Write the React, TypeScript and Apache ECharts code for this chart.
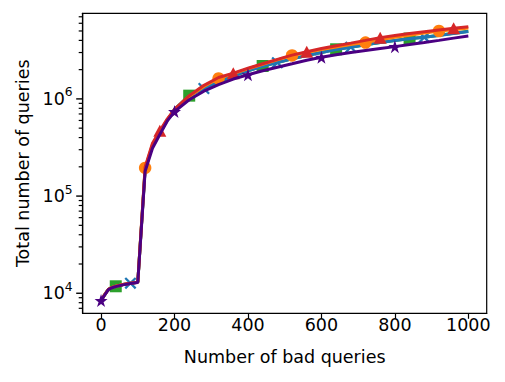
import React, { useEffect, useRef } from 'react';
import * as echarts from 'echarts';

// x positions of the sampled points (number of bad queries)
const xs = [0, 10, 20, 30, 40, 60, 80, 100, 120, 140, 160, 180, 200, 240, 280, 320, 360, 400, 440, 480, 520, 560, 600, 640, 680, 720, 760, 800, 840, 880, 920, 960, 1000];

// total number of queries per series
const greenVals = [8400, 9700, 11000, 11500, 11800, 12300, 12700, 13000, 190000, 330000, 450000, 600000, 780000, 1080000, 1280000, 1500000, 1720000, 1950000, 2180000, 2360000, 2580000, 2800000, 3000000, 3240000, 3400000, 3600000, 3800000, 3980000, 4180000, 4320000, 4520000, 4740000, 4960000];
const blueVals = [8400, 9700, 11000, 11500, 11800, 12300, 12700, 13000, 190000, 330000, 450000, 600000, 780000, 1070000, 1280000, 1500000, 1720000, 1950000, 2170000, 2360000, 2580000, 2800000, 3000000, 3230000, 3400000, 3600000, 3800000, 3980000, 4160000, 4300000, 4500000, 4720000, 4950000];
const orangeVals = [8400, 9700, 11000, 11500, 11800, 12300, 12700, 13000, 195000, 340000, 460000, 610000, 770000, 1060000, 1340000, 1620000, 1820000, 2040000, 2270000, 2520000, 2800000, 3000000, 3220000, 3420000, 3620000, 3800000, 4050000, 4300000, 4520000, 4750000, 5000000, 5160000, 5350000];
const redVals = [8400, 9700, 11000, 11500, 11800, 12300, 12700, 13000, 200000, 350000, 470000, 620000, 780000, 1080000, 1380000, 1660000, 1840000, 2070000, 2300000, 2550000, 2820000, 3060000, 3300000, 3520000, 3750000, 4000000, 4270000, 4500000, 4720000, 4920000, 5120000, 5330000, 5540000];
const purpleVals = [8400, 9600, 10900, 11400, 11700, 12200, 12600, 12900, 180000, 310000, 430000, 590000, 740000, 980000, 1200000, 1400000, 1600000, 1770000, 1950000, 2120000, 2300000, 2500000, 2680000, 2850000, 3000000, 3150000, 3300000, 3450000, 3620000, 3800000, 4000000, 4220000, 4440000];

// x positions where each series shows its marker
const greenMarks = [40, 240, 440, 640, 840];
const blueMarks = [80, 280, 480, 680, 880];
const orangeMarks = [120, 320, 520, 720, 920];
const redMarks = [160, 360, 560, 760, 960];
const purpleMarks = [0, 200, 400, 600, 800];

// ticks
const xTicks = [0, 200, 400, 600, 800, 1000];
const yMajorTicks = [1e4, 1e5, 1e6];
const yMinorTicks = [7e3, 8e3, 9e3, 2e4, 3e4, 4e4, 5e4, 6e4, 7e4, 8e4, 9e4, 2e5, 3e5, 4e5, 5e5, 6e5, 7e5, 8e5, 9e5, 2e6, 3e6, 4e6, 5e6, 6e6, 7e6];
const yRange = [6220, 7.6e6];
const xRange = [-50, 1050];

const FONT = 'DejaVu Sans';

const STAR = 'path://M50,0 L61.8,35.5 L99,35.5 L69,57.5 L80.5,93 L50,71 L19.5,93 L31,57.5 L1,35.5 L38.2,35.5 Z';
const XMARK = 'path://M0,1.6 L1.6,0 L6,4.4 L10.4,0 L12,1.6 L7.6,6 L12,10.4 L10.4,12 L6,7.6 L1.6,12 L0,10.4 L4.4,6 Z';

function makeSeries(name: string, color: string, vals: number[], marks: number[], symbol: string, size: number | number[], z: number) {
  return {
    type: 'line',
    name,
    z,
    silent: true,
    data: xs.map((x, i) => {
      const item: any = { value: [x, Math.log10(vals[i])] };
      if (!marks.includes(x)) item.symbol = 'none';
      return item;
    }),
    symbol,
    symbolSize: size,
    showSymbol: true,
    showAllSymbol: true,
    lineStyle: { color, width: 3 },
    itemStyle: { color, borderWidth: 0 },
    emphasis: { disabled: true },
  };
}

export default function App() {
  const ref = useRef<HTMLDivElement>(null);
  useEffect(() => {
    if (!ref.current) return;
    const chart = echarts.init(ref.current, undefined, { renderer: 'svg' });
    const yMin = Math.log10(yRange[0]);
    const yMax = Math.log10(yRange[1]);
    chart.setOption({
      animation: false,
      backgroundColor: '#fff',
      textStyle: { fontFamily: FONT },
      grid: {
        left: 82.7,
        right: 18.3,
        top: 13.3,
        bottom: 68.7,
        show: true,
        borderColor: '#000',
        borderWidth: 1.2,
      },
      xAxis: {
        type: 'value',
        min: xRange[0],
        max: xRange[1],
        axisLine: { show: true, onZero: false, lineStyle: { color: '#000', width: 1.2 } },
        splitLine: { show: false },
        axisTick: { show: true, customValues: xTicks, length: 5.5, lineStyle: { color: '#000', width: 1.2 } },
        axisLabel: { customValues: xTicks, color: '#000', fontSize: 17.5, fontFamily: FONT, margin: 3, formatter: (v: number) => String(v) },
        name: 'Number of bad queries',
        nameLocation: 'middle',
        nameGap: 35,
        nameTextStyle: { color: '#000', fontSize: 17.5, fontFamily: FONT },
      },
      yAxis: {
        type: 'value',
        min: yMin,
        max: yMax,
        axisLine: { show: true, onZero: false, lineStyle: { color: '#000', width: 1.2 } },
        splitLine: { show: false },
        axisTick: { show: false },
        axisLabel: {
          customValues: yMajorTicks.map((v) => Math.log10(v)),
          margin: 10,
          formatter: (v: number) => `{b|10}{s|${Math.round(v)}}`,
          rich: {
            b: { fontSize: 17.5, fontFamily: FONT, color: '#000', lineHeight: 20 },
            s: { fontSize: 12.3, fontFamily: FONT, color: '#000', lineHeight: 14, padding: [0, 0, 13, 0] },
          },
        },
        name: 'Total number of queries',
        nameLocation: 'middle',
        nameGap: 50,
        nameTextStyle: { color: '#000', fontSize: 17.5, fontFamily: FONT },
      },
      series: [
        makeSeries('green', '#2ca02c', greenVals, greenMarks, 'rect', 12, 2),
        makeSeries('blue', '#1f77b4', blueVals, blueMarks, XMARK, 12, 3),
        makeSeries('orange', '#ff7f0e', orangeVals, orangeMarks, 'circle', 12.5, 4),
        makeSeries('red', '#d62728', redVals, redMarks, 'triangle', [13, 12], 5),
        makeSeries('purple', '#4b0082', purpleVals, purpleMarks, STAR, 13, 6),
      ],
    });
    // y ticks (major + minor), positioned through the chart's own y scale
    const tickLines: any[] = [];
    const addTick = (v: number, len: number, w: number) => {
      const p = chart.convertToPixel({ gridIndex: 0 }, [xRange[0], Math.log10(v)]) as number[];
      if (!p || isNaN(p[0]) || isNaN(p[1])) return;
      tickLines.push({
        type: 'line',
        silent: true,
        z: 100,
        shape: { x1: p[0] - len, y1: p[1], x2: p[0], y2: p[1] },
        style: { stroke: '#000', lineWidth: w },
      });
    };
    yMajorTicks.forEach((v) => addTick(v, 6.5, 1.4));
    yMinorTicks.forEach((v) => addTick(v, 4, 1.2));
    chart.setOption({ graphic: { elements: tickLines } });
    return () => chart.dispose();
  }, []);
  return <div ref={ref} style={{ position: 'fixed', left: 0, top: 0, width: 505, height: 382 }} />;
}
